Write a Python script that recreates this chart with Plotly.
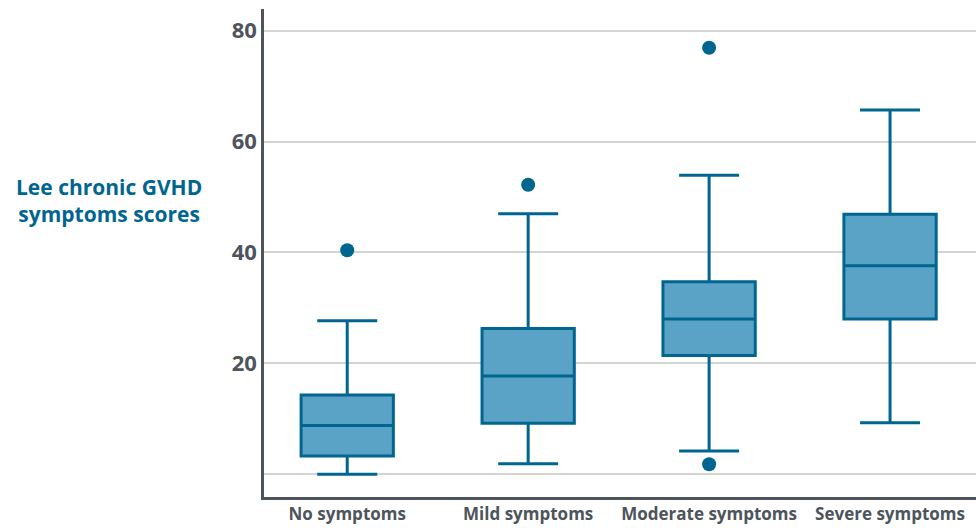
import plotly.graph_objects as go

# Lee chronic GVHD symptom scores by patient-reported severity
categories = ["No symptoms", "Mild symptoms", "Moderate symptoms", "Severe symptoms"]
lower_whisker = [0.0, 1.9, 4.2, 9.3]
q1 = [3.3, 9.2, 21.4, 28.0]
median = [8.8, 17.7, 28.0, 37.6]
q3 = [14.3, 26.3, 34.7, 46.9]
upper_whisker = [27.7, 47.0, 53.9, 65.7]

outlier_cats = ["No symptoms", "Mild symptoms", "Moderate symptoms", "Moderate symptoms"]
outlier_vals = [40.4, 52.2, 76.9, 1.8]

tick_vals = [0, 20, 40, 60, 80]
tick_text = ["", "20", "40", "60", "80"]

y_caption = "Lee chronic GVHD<br>symptoms scores"

dark_blue = "#00668f"
fill_blue = "#5ba3c6"
axis_grey = "#4d545b"

W, H = 976, 528
M_L, M_R, M_T, M_B = 264, 0, 9, 31
plot_w = W - M_L - M_R
plot_h = H - M_T - M_B

fig = go.Figure()
fig.add_trace(go.Box(
    x=categories,
    q1=q1, median=median, q3=q3,
    lowerfence=lower_whisker, upperfence=upper_whisker,
    fillcolor=fill_blue,
    line=dict(color=dark_blue, width=3),
    whiskerwidth=0.65,
    width=0.51,
    boxpoints=False,
    showlegend=False,
    hoverinfo="skip",
))
fig.add_trace(go.Scatter(
    x=outlier_cats, y=outlier_vals,
    mode="markers",
    marker=dict(color=dark_blue, size=14),
    showlegend=False,
    hoverinfo="skip",
))

fig.update_layout(
    width=W, height=H,
    margin=dict(l=M_L, r=M_R, t=M_T, b=M_B),
    paper_bgcolor="white",
    plot_bgcolor="white",
    font=dict(family="Open Sans", color=axis_grey),
    xaxis=dict(
        type="category",
        categoryorder="array", categoryarray=categories,
        range=[-0.46, 3.475],
        showline=True, linecolor=axis_grey, linewidth=2.5,
        showgrid=False, ticks="",
        tickfont=dict(size=17, family="Open Sans", weight="bold", color=axis_grey),
        zeroline=False,
    ),
    yaxis=dict(
        range=[-4.1, 83.9],
        tickvals=tick_vals, ticktext=tick_text,
        showline=True, linecolor=axis_grey, linewidth=2.5,
        showgrid=True, gridcolor="#d4d4d4", gridwidth=2,
        ticks="", ticklen=0,
        tickfont=dict(size=22, family="Open Sans", weight="bold", color=axis_grey),
        zeroline=False,
    ),
    annotations=[dict(
        text=y_caption,
        xref="paper", yref="paper",
        x=(109 - M_L) / plot_w, y=(H - M_B - 200) / plot_h,
        xanchor="center", yanchor="middle",
        showarrow=False,
        align="center",
        font=dict(size=21, family="Open Sans", weight="bold", color=dark_blue),
    )],
)

fig.write_html("out.html")
